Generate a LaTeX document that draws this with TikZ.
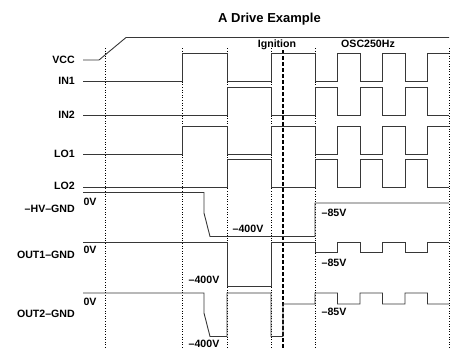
\documentclass[tikz,border=0pt]{standalone}
\usepackage{fontspec}
\setmainfont{Liberation Sans}
\usepackage{tikz}
\usepackage{xcolor}
\definecolor{wave}{RGB}{55,55,55}

\begin{document}
\begin{tikzpicture}[x=1pt, y=-1pt,
          signal/.style={draw=wave, line width=0.9pt},
          guide/.style={black, line width=0.75pt, dash pattern=on 1pt off 1.6pt},
          ignite/.style={black, line width=1.8pt, dash pattern=on 4pt off 2pt},
          lbl/.style={anchor=east, inner sep=0pt, text height=7.6pt, text depth=0pt,
                      font=\fontsize{10.6}{12}\selectfont\bfseries},
          val/.style={lbl, anchor=center}
      ]
        \useasboundingbox (0,0) rectangle (458,349);
        \node[lbl, anchor=center, text height=9.3pt,
              font=\fontsize{13}{15}\selectfont\bfseries] (title) at (269.5,18) {A Drive Example};
        % time marks
        \draw[guide] (105,48) -- (105,349);
        \draw[guide] (182,48) -- (182,349);
        \draw[guide] (227,48) -- (227,349);
        \draw[guide] (271,48) -- (271,349);
        \draw[guide] (315,48) -- (315,349);
        \draw[guide] (449,48) -- (449,349);
        \draw[ignite] (283,50) -- (283,349);
        \node[val] (ign) at (277,44) {Ignition};
        \node[val] (osc) at (368,44) {OSC250Hz};
        % signal names
        \node[lbl] (vcc)  at (75,60)  {VCC};
        \node[lbl] (in1)  at (75,81)  {IN1};
        \node[lbl] (in2)  at (75,115) {IN2};
        \node[lbl] (lo1)  at (75,154) {LO1};
        \node[lbl] (lo2)  at (75,186) {LO2};
        \node[lbl] (hv)   at (75,209) {--HV--GND};
        \node[lbl] (out1) at (75,255) {OUT1--GND};
        \node[lbl] (out2) at (75,314) {OUT2--GND};
        % waveforms
        \draw[signal] (83,60) -- (99,60) -- (126,37.5) -- (449,37.5);
        \draw[signal] (83,81) -| (182,53) -| (227,81) -| (271,53) -| (315,81) -| (337.5,53)
              -| (360,81) -| (382.5,53) -| (405,81) -| (427.5,53) -- (449,53);
        \draw[signal] (83,115) -| (227,87) -| (271,115) -| (315,87) -| (337.5,115) -| (360,87)
              -| (382.5,115) -| (405,87) -| (427.5,115) -- (449,115);
        \draw[signal] (83,154) -| (182,126) -| (227,154) -| (271,126) -| (315,154) -| (337.5,126)
              -| (360,154) -| (382.5,126) -| (405,154) -| (427.5,126) -- (449,126);
        \draw[signal] (83,187) -| (227,159) -| (271,187) -| (315,159) -| (337.5,187) -| (360,159)
              -| (382.5,187) -| (405,159) -| (427.5,187) -- (449,187);
        \draw[signal] (83,192.5) -- (204,192.5) -- (204,213) -- (210,236.5) -- (315,236.5)
              -- (315,203) -- (449,203);
        \draw[signal] (83,242) -| (227,286.5) -| (271,242) -| (315,252.5) -| (337.5,242)
              -| (360,252.5) -| (382.5,242) -| (405,252.5) -| (427.5,242) -- (449,242);
        \draw[signal] (83,293) -- (204,293) -- (204,313) -- (210,336.5) -- (227,336.5)
              -- (227,293) -- (271,293) -- (271,336.5) -- (283,336.5) -- (283,304)
              -| (315,293) -| (337.5,304) -| (360,293) -| (382.5,304) -| (405,293)
              -| (427.5,304) -- (449,304);
        % levels
        \node[val] (hv0)   at (90,201.5) {0V};
        \node[val] (out10) at (90,250)   {0V};
        \node[val] (out20) at (90,301.5) {0V};
        \node[val] (hvlow)   at (248,229)   {--400V};
        \node[val] (out1low) at (204,280)   {--400V};
        \node[val] (out2low) at (204,343.5) {--400V};
        \node[val] (hvosc)   at (334,213)   {--85V};
        \node[val] (out1osc) at (334,263)   {--85V};
        \node[val] (out2osc) at (334,311.5) {--85V};
      \end{tikzpicture}
\end{document}
